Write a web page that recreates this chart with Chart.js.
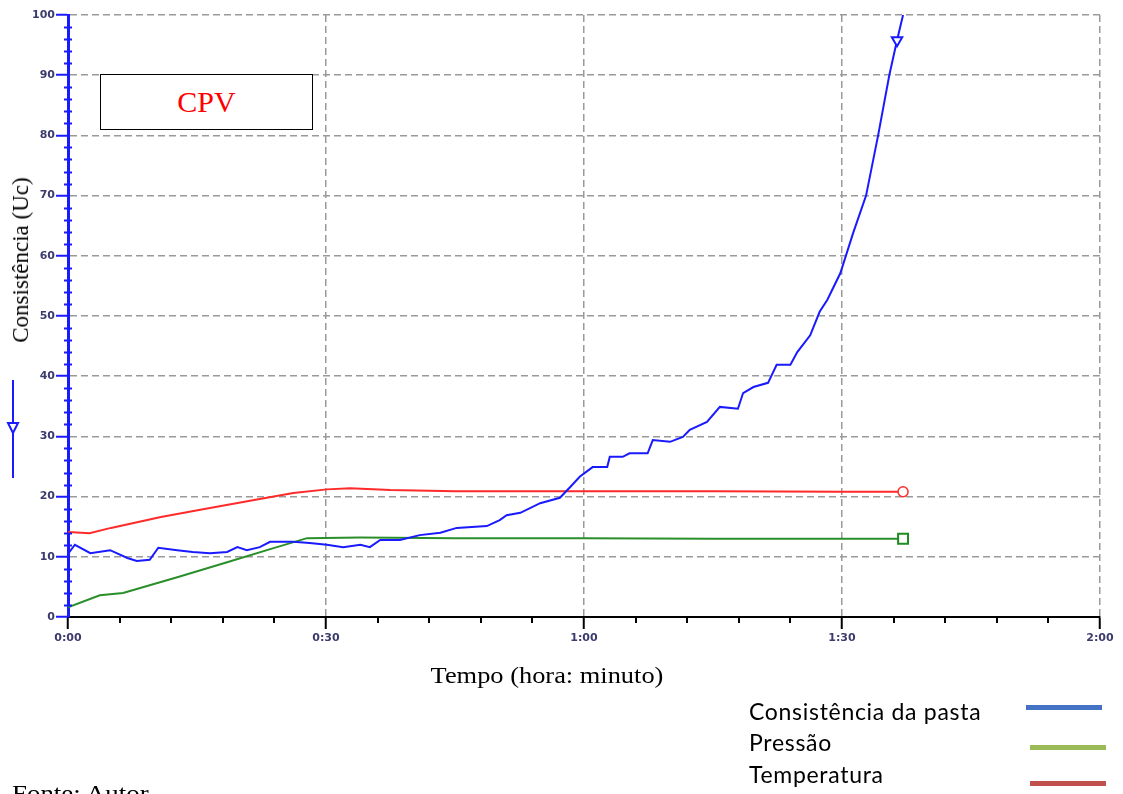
<!DOCTYPE html>
<html>
<head>
<meta charset="utf-8">
<script src="https://cdn.jsdelivr.net/npm/chart.js@4"></script>
<style>
  body { margin: 0; background: #fff; }
  #wrap { position: relative; width: 1123px; height: 794px; overflow: hidden; }
  #chart { position: absolute; left: 0; top: 0; }
  .serif { position: absolute; font-family: "Liberation Serif", "Times New Roman", serif; color: #000; white-space: nowrap; }
  #ytitle { left: 21px; top: 260px; font-size: 23px; transform: translate(-50%, -50%) rotate(-90deg); }
  #xtitle { left: 547px; top: 675px; font-size: 24px; transform: translate(-50%, -50%) scaleX(1.1); }
  #fonte { left: 12px; top: 780px; font-size: 24px; transform-origin: left top; transform: scaleX(1.12); }
  #cpv { position: absolute; left: 100px; top: 74px; width: 211px; height: 54px; border: 1px solid #000;
         display: flex; align-items: center; justify-content: center;
         font-family: "Liberation Serif", serif; font-size: 30px; color: #ff0000; background: #fff; }
  .leg { position: absolute; font-family: Lato, "Noto Sans", sans-serif; font-size: 23px; letter-spacing: 0.7px; color: #000; white-space: nowrap; }
  .legline { position: absolute; height: 5px; width: 76px; }
</style>
</head>
<body>
<div id="wrap">
  <canvas id="chart" width="1123" height="794"></canvas>
  <div id="ytitle" class="serif">Consistência (Uc)</div>
  <div id="xtitle" class="serif">Tempo (hora: minuto)</div>
  <div id="cpv">CPV</div>
  <div class="leg" style="left:749px; top:697px;">Consistência da pasta</div>
  <div class="leg" style="left:749px; top:728px;">Pressão</div>
  <div class="leg" style="left:749px; top:760px;">Temperatura</div>
  <div class="legline" style="left:1026px; top:705px; background:#4472c4;"></div>
  <div class="legline" style="left:1030px; top:745px; background:#9bbb59;"></div>
  <div class="legline" style="left:1030px; top:781px; background:#c0504d;"></div>
  <div id="fonte" class="serif">Fonte: Autor</div>
</div>
<script>
// Tick labels
const timeTickLabels = ['0:00', '0:30', '1:00', '1:30', '2:00'];

// Consistência da pasta (Uc) vs. tempo (min)
const consistTime = [0, 0.8, 2.6, 4.9, 6.9, 8.0, 9.5, 10.5, 12.7, 14.5, 16.5, 18.5, 19.7, 20.8, 22.3, 23.5,
  26.2, 28.1, 30.1, 32.0, 34.0, 35.1, 36.3, 38.6, 40.9, 43.3, 45.2, 48.7, 50.2, 51.0, 52.6, 54.9,
  57.2, 58.4, 59.5, 61.0, 62.7, 63.0, 64.5, 65.3, 67.4, 68.0, 70.0, 71.5, 72.3, 74.3, 75.8, 77.9,
  78.5, 79.7, 81.4, 82.4, 84.0, 84.8, 86.3, 87.4, 88.3, 89.8, 91.3, 92.8, 94.2, 95.5, 96.4, 97.1];
const consistValue = [10.5, 12.0, 10.6, 11.1, 9.8, 9.3, 9.5, 11.5, 11.1, 10.8, 10.6, 10.8, 11.6, 11.1, 11.6, 12.5,
  12.5, 12.3, 12.0, 11.6, 12.0, 11.6, 12.8, 12.8, 13.6, 14.0, 14.8, 15.1, 16.1, 16.9, 17.3, 18.9,
  19.8, 21.6, 23.3, 24.9, 24.9, 26.6, 26.6, 27.2, 27.2, 29.4, 29.1, 29.9, 31.1, 32.4, 34.9, 34.6,
  37.2, 38.2, 38.9, 41.9, 41.9, 44.0, 46.8, 50.7, 52.7, 57.1, 63.8, 70.0, 80.0, 90.0, 95.8, 100];

// Temperatura
const tempTime = [0, 2.5, 5.0, 10.8, 16.5, 22.3, 26.2, 30.1, 32.8, 37.5, 45, 60, 75, 90, 97.1];
const tempValue = [14.1, 13.9, 14.8, 16.6, 18.1, 19.6, 20.6, 21.2, 21.4, 21.1, 20.9, 20.9, 20.9, 20.8, 20.8];

// Pressão
const presTime = [0, 3.7, 6.4, 12.7, 18.5, 23.8, 27.8, 34, 45, 60, 75, 90, 97.1];
const presValue = [1.6, 3.6, 4.0, 6.6, 9.1, 11.4, 13.1, 13.2, 13.1, 13.1, 13.0, 13.0, 13.0];

const toPoints = (xs, ys) => xs.map((x, i) => ({ x: x, y: ys[i] }));
const arrowIndex = consistTime.indexOf(96.4);

const GRID = '#9a9a9a';
const BLUE = '#1a1aff';

// minor ticks on both axes, plus the little series arrow next to the y axis
const minorTicks = {
  id: 'minorTicks',
  afterDraw(chart) {
    const { ctx, scales: { x, y } } = chart;
    ctx.save();
    ctx.lineWidth = 2;
    ctx.strokeStyle = BLUE;
    const x0 = x.getPixelForValue(0);
    for (let v = 2; v < 100; v += 2) {
      if (v % 10 === 0) continue;
      const py = Math.round(y.getPixelForValue(v)) + 0.5;
      ctx.beginPath();
      ctx.moveTo(x0 - 4, py);
      ctx.lineTo(x0 + 4, py);
      ctx.stroke();
    }
    ctx.strokeStyle = '#000';
    const y0 = y.getPixelForValue(0);
    for (let t = 6; t < 120; t += 6) {
      if (t % 30 === 0) continue;
      const px = Math.round(x.getPixelForValue(t));
      ctx.beginPath();
      ctx.moveTo(px, y0);
      ctx.lineTo(px, y0 + 6);
      ctx.stroke();
    }
    // axis marker for the consistency series
    ctx.strokeStyle = BLUE;
    ctx.lineWidth = 2;
    ctx.beginPath();
    ctx.moveTo(13, 380);
    ctx.lineTo(13, 478);
    ctx.stroke();
    ctx.fillStyle = '#fff';
    ctx.beginPath();
    ctx.moveTo(8, 423);
    ctx.lineTo(18, 423);
    ctx.lineTo(13, 433);
    ctx.closePath();
    ctx.fill();
    ctx.stroke();
    ctx.restore();
  }
};

new Chart(document.getElementById('chart'), {
  type: 'line',
  data: {
    datasets: [
      {
        label: 'Consistência da pasta',
        data: toPoints(consistTime, consistValue),
        borderColor: BLUE,
        borderWidth: 2,
        pointStyle: 'triangle',
        pointRotation: 180,
        pointRadius: c => c.dataIndex === arrowIndex ? 6 : 0,
        pointBorderColor: BLUE,
        pointBackgroundColor: '#fff',
        pointBorderWidth: 2
      },
      {
        label: 'Temperatura',
        data: toPoints(tempTime, tempValue),
        borderColor: '#ff2a2a',
        borderWidth: 2,
        pointStyle: 'circle',
        pointRadius: c => c.dataIndex === tempTime.length - 1 ? 5 : 0,
        pointBorderColor: '#ff2a2a',
        pointBackgroundColor: '#fff',
        pointBorderWidth: 1.5
      },
      {
        label: 'Pressão',
        data: toPoints(presTime, presValue),
        borderColor: '#2a8f2a',
        borderWidth: 2,
        pointStyle: 'rect',
        pointRadius: c => c.dataIndex === presTime.length - 1 ? 7 : 0,
        pointBorderColor: '#1f8a1f',
        pointBackgroundColor: '#fff',
        pointBorderWidth: 2
      }
    ]
  },
  options: {
    responsive: false,
    devicePixelRatio: 1,
    animation: false,
    events: [],
    layout: { padding: { left: 0, right: 23, top: 15, bottom: 0 } },
    plugins: { legend: { display: false }, tooltip: { enabled: false } },
    elements: { line: { tension: 0 } },
    scales: {
      x: {
        type: 'linear',
        min: 0,
        max: 120,
        afterFit: s => { s.height = 177; },
        afterBuildTicks: s => { s.ticks = timeTickLabels.map((_, i) => ({ value: i * 30 })); },
        ticks: {
          callback: (v, i) => timeTickLabels[i],
          font: { family: 'DejaVu Sans', size: 11, weight: 'bold' },
          color: '#3b3b6e',
          padding: 3,
          maxRotation: 0
        },
        grid: {
          color: c => c.tick && c.tick.value === 0 ? 'rgba(0,0,0,0)' : GRID,
          lineWidth: 1.5,
          tickColor: '#000',
          tickWidth: 2,
          tickLength: 12
        },
        border: { display: true, color: '#000', width: 2, dash: [7, 4] }
      },
      y: {
        min: 0,
        max: 100,
        afterFit: s => { s.width = 68; },
        ticks: {
          stepSize: 10,
          font: { family: 'DejaVu Sans', size: 11, weight: 'bold' },
          color: '#3b3b6e',
          padding: 1
        },
        grid: {
          color: c => c.tick && c.tick.value === 0 ? 'rgba(0,0,0,0)' : GRID,
          lineWidth: 1.5,
          tickColor: BLUE,
          tickWidth: 2,
          tickLength: 12
        },
        border: { display: true, color: BLUE, width: 3, dash: [7, 4] }
      }
    }
  },
  plugins: [minorTicks]
});
</script>
</body>
</html>
